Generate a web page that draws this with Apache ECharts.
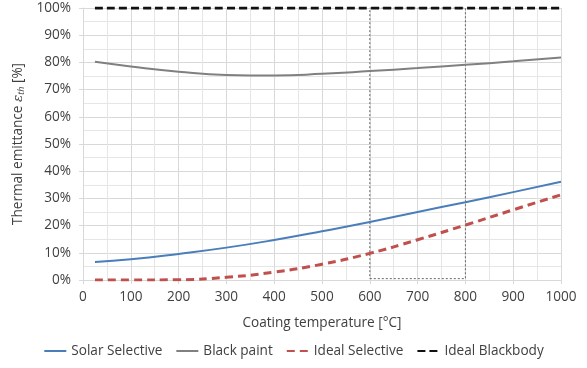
<!DOCTYPE html>
<html><head><meta charset="utf-8">
<script src="https://cdn.jsdelivr.net/npm/echarts@6/dist/echarts.min.js"></script>
<style>html,body{margin:0;padding:0;background:#fff}#c{width:587px;height:368px}</style>
</head><body><div id="c"></div>
<script>
const temps = [25, 100, 200, 300, 400, 500, 600, 700, 800, 900, 1000];
const solarSelective = [6.6, 7.6, 9.6, 11.9, 14.7, 17.9, 21.3, 25.0, 28.6, 32.3, 36.1];
const blackPaint = [80.2, 78.5, 76.6, 75.4, 75.2, 75.8, 76.8, 77.9, 79.1, 80.4, 81.8];
const idealSelective = [0, 0, 0.1, 1.0, 2.9, 5.8, 9.8, 14.8, 20.2, 25.8, 31.3];
const idealBlackbody = [100, 100, 100, 100, 100, 100, 100, 100, 100, 100, 100];
const boxX = [600, 800];
const boxY = [0.5, 100];

const font = 'Open Sans';
const fs = 13.6;
const pair = a => temps.map((t, i) => [t, a[i]]);

const chart = echarts.init(document.getElementById('c'), null, {renderer: 'canvas'});
chart.setOption({
  animation: false,
  textStyle: {fontFamily: font},
  grid: {left: 83, right: 26, top: 8, bottom: 88},
  legend: {
    bottom: 5, left: 'center', itemWidth: 22, itemHeight: 10, itemGap: 13,
    itemStyle: {opacity: 0},
    textStyle: {fontFamily: font, fontSize: fs, color: '#404040'},
    data: ['Solar Selective', 'Black paint', 'Ideal Selective', 'Ideal Blackbody']
  },
  xAxis: {
    type: 'value', min: 0, max: 1000, interval: 100,
    name: 'Coating temperature [°C]', nameLocation: 'middle', nameGap: 36,
    nameTextStyle: {fontFamily: font, fontSize: fs, color: '#404040'},
    axisLine: {show: true, lineStyle: {color: '#d9d9d9'}},
    axisTick: {show: true, length: 4, lineStyle: {color: '#d9d9d9'}},
    axisLabel: {fontFamily: font, fontSize: fs, color: '#404040', margin: 10, formatter: v => String(v)},
    splitLine: {show: true, lineStyle: {color: '#d9d9d9', width: 1}},
    minorTick: {show: false, splitNumber: 2},
    minorSplitLine: {show: true, lineStyle: {color: '#e6e6e6', width: 1}}
  },
  yAxis: {
    type: 'value', min: 0, max: 100, interval: 10,
    name: '{a|Thermal emittance }{e|ε}{s|th}{a| [%]}', nameLocation: 'middle', nameGap: 55,
    nameTextStyle: {
      fontFamily: font, fontSize: fs, color: '#404040',
      rich: {
        a: {fontFamily: font, fontSize: fs, color: '#404040'},
        e: {fontFamily: 'DejaVu Serif', fontStyle: 'italic', fontSize: fs, color: '#404040'},
        s: {fontFamily: font, fontStyle: 'italic', fontSize: 9, color: '#404040', verticalAlign: 'bottom', padding: [6, 0, 0, 0]}
      }
    },
    axisLine: {show: true, lineStyle: {color: '#d9d9d9'}},
    axisTick: {show: true, length: 4, lineStyle: {color: '#d9d9d9'}},
    axisLabel: {fontFamily: font, fontSize: fs, color: '#404040', margin: 12, formatter: '{value}%'},
    splitLine: {show: true, lineStyle: {color: '#d9d9d9', width: 1}},
    minorTick: {show: false, splitNumber: 2},
    minorSplitLine: {show: true, lineStyle: {color: '#e6e6e6', width: 1}}
  },
  series: [
    {
      name: 'Solar Selective', type: 'line', smooth: true, symbol: 'none',
      data: pair(solarSelective), lineStyle: {color: '#4a7ebb', width: 2}, itemStyle: {color: '#4a7ebb'},
      z: 3
    },
    {
      name: 'Black paint', type: 'line', smooth: true, symbol: 'none',
      data: pair(blackPaint), lineStyle: {color: '#808080', width: 2}, itemStyle: {color: '#808080'},
      z: 3,
      markArea: {
        silent: true,
        itemStyle: {color: 'rgba(0,0,0,0)', borderColor: '#666', borderWidth: 1, borderType: [2, 2]},
        data: [[{coord: [boxX[0], boxY[0]]}, {coord: [boxX[1], boxY[1]]}]]
      }
    },
    {
      name: 'Ideal Selective', type: 'line', smooth: true, symbol: 'none',
      data: pair(idealSelective), lineStyle: {color: '#c0504d', width: 3, type: [8, 5]}, itemStyle: {color: '#c0504d'},
      z: 4
    },
    {
      name: 'Ideal Blackbody', type: 'line', smooth: true, symbol: 'none',
      data: pair(idealBlackbody), lineStyle: {color: '#111', width: 3, type: [8, 4]}, itemStyle: {color: '#111'},
      z: 4
    }
  ]
});
</script></body></html>
